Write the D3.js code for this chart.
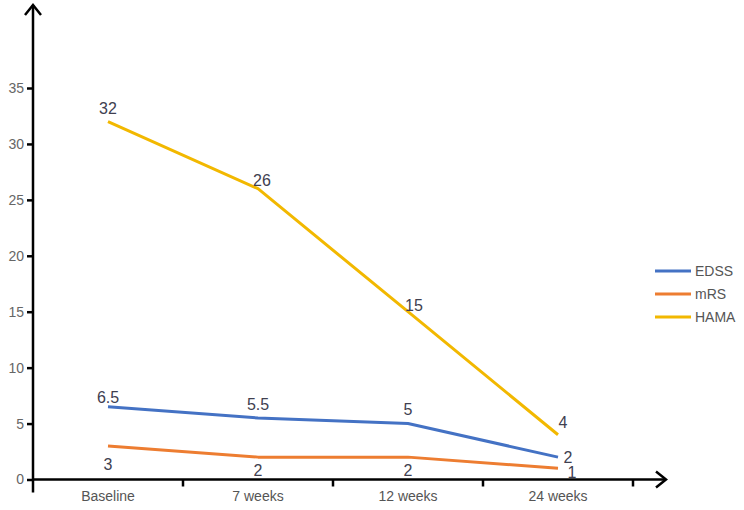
<!DOCTYPE html>
<html>
<head>
<meta charset="utf-8">
<script src="https://cdn.jsdelivr.net/npm/d3@7"></script>
<style>
  body { margin: 0; background: #fff; }
  text { font-family: "Liberation Sans", Arial, sans-serif; }
</style>
</head>
<body>
<svg id="chart" width="744" height="510"></svg>
<script>
var categories = ['Baseline', '7 weeks', '12 weeks', '24 weeks'];
var seriesNames = ['EDSS', 'mRS', 'HAMA'];
var edss = [6.5, 5.5, 5, 2];
var mrs = [3, 2, 2, 1];
var hama = [32, 26, 15, 4];
var yTicks = [0, 5, 10, 15, 20, 25, 30, 35];

var colors = {EDSS: '#4472c4', mRS: '#ed7d31', HAMA: '#f2b800'};
// label nudges (dx, dy from the point) so numbers sit like the original
var labelOffsets = {
    EDSS: [[0, -4], [0, -8], [0, -9], [10, 6]],
    mRS: [[0, 24], [0, 19], [0, 19], [14, 10]],
    HAMA: [[0, -8], [4, -3], [6, -1], [5, -7]]
};

var svg = d3.select('#chart');
var seriesData = {EDSS: edss, mRS: mrs, HAMA: hama};

var xScale = d3.scaleBand().domain(categories).range([33, 633]);
var yScale = d3.scaleLinear().domain([0, 35]).range([479.5, 88]);

// y axis
var yAxis = svg.append('g')
    .attr('transform', 'translate(33,0)')
    .call(d3.axisLeft(yScale).tickValues(yTicks).tickSize(6).tickPadding(3));
yAxis.select('.domain').remove();
yAxis.selectAll('line').attr('stroke', '#000').attr('stroke-width', 2.5);
yAxis.selectAll('text').attr('fill', '#666').style('font-size', '14px');

// x axis
var xAxis = svg.append('g')
    .attr('transform', 'translate(0,' + yScale(0) + ')')
    .call(d3.axisBottom(xScale).tickSize(0).tickPadding(12));
xAxis.select('.domain').remove();
xAxis.selectAll('text').attr('fill', '#555').style('font-size', '14px');

var bandTicks = categories.map(function(c) { return xScale(c) + xScale.bandwidth(); });
svg.append('g').selectAll('line')
    .data(bandTicks)
    .enter()
    .append('line')
    .attr('x1', function(d) { return d; })
    .attr('x2', function(d) { return d; })
    .attr('y1', yScale(0))
    .attr('y2', yScale(0) + 7)
    .attr('stroke', '#000')
    .attr('stroke-width', 2.5);

// axis lines with arrows
var x0 = 33, y0 = yScale(0);
svg.append('line')
    .attr('x1', x0).attr('y1', y0 + 13)
    .attr('x2', x0).attr('y2', 5)
    .attr('stroke', '#000').attr('stroke-width', 2.5);
svg.append('path')
    .attr('d', 'M' + (x0 - 8) + ',15 L' + x0 + ',5 L' + (x0 + 8) + ',15')
    .attr('fill', 'none').attr('stroke', '#000').attr('stroke-width', 2.5);
svg.append('line')
    .attr('x1', x0).attr('y1', y0)
    .attr('x2', 666).attr('y2', y0)
    .attr('stroke', '#000').attr('stroke-width', 2.5);
svg.append('path')
    .attr('d', 'M656,' + (y0 - 8) + ' L666,' + y0 + ' L656,' + (y0 + 8))
    .attr('fill', 'none').attr('stroke', '#000').attr('stroke-width', 2.5);

var line = d3.line()
    .x(function(d, i) { return xScale(categories[i]) + xScale.bandwidth() / 2; })
    .y(function(d) { return yScale(d); });

seriesNames.forEach(function(name) {
    var vals = seriesData[name];
    svg.append('path')
        .datum(vals)
        .attr('d', line)
        .attr('fill', 'none')
        .attr('stroke', colors[name])
        .attr('stroke-width', 3)
        .attr('stroke-linejoin', 'round');

    svg.append('g').selectAll('text')
        .data(vals)
        .enter()
        .append('text')
        .attr('x', function(d, i) { return xScale(categories[i]) + xScale.bandwidth() / 2 + labelOffsets[name][i][0]; })
        .attr('y', function(d, i) { return yScale(d) + labelOffsets[name][i][1]; })
        .attr('text-anchor', 'middle')
        .attr('fill', '#404050')
        .style('font-size', '16px')
        .text(function(d) { return d; });
});

// legend
var leg = svg.append('g').attr('transform', 'translate(655,271)');
var item = leg.selectAll('g')
    .data(seriesNames)
    .enter()
    .append('g')
    .attr('transform', function(d, i) { return 'translate(0,' + i * 23 + ')'; });
item.append('line')
    .attr('x1', 0).attr('x2', 36)
    .attr('y1', 0).attr('y2', 0)
    .attr('stroke', function(d) { return colors[d]; })
    .attr('stroke-width', 3);
item.append('text')
    .attr('x', 40)
    .attr('y', 5)
    .attr('fill', '#555')
    .style('font-size', '14px')
    .text(function(d) { return d; });
</script>
</body>
</html>
